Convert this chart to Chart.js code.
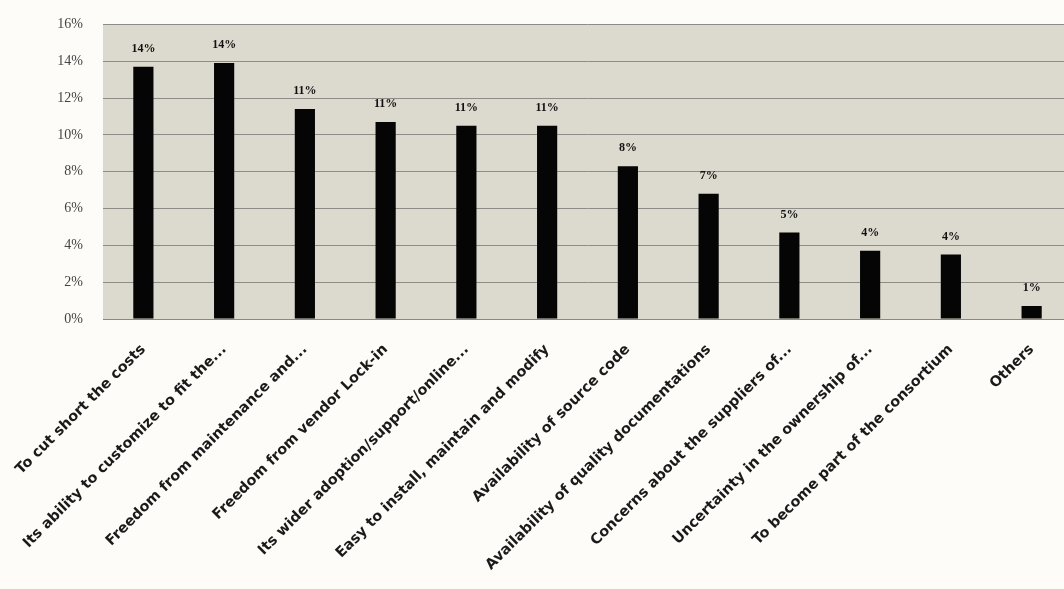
<!DOCTYPE html>
<html>
<head>
<meta charset="utf-8">
<script src="https://cdn.jsdelivr.net/npm/chart.js@4.4.0/dist/chart.umd.min.js"></script>
<style>
  html, body { margin: 0; padding: 0; background: #fdfcf8; overflow: hidden; }
  #wrap { width: 1064px; height: 589px; overflow: hidden; }
  #reasonsChart { display: block; margin-top: -4px; }
</style>
</head>
<body>
<div id="wrap"><canvas id="reasonsChart" width="1080" height="593"></canvas></div>
<script>
// Reasons for adopting open source (share of responses, %)
const categories = [
    'To cut short the costs',
    'Its ability to customize to fit the...',
    'Freedom from maintenance and...',
    'Freedom from vendor Lock-in',
    'Its wider adoption/support/online...',
    'Easy to install, maintain and modify',
    'Availability of source code',
    'Availability of quality documentations',
    'Concerns about the suppliers of...',
    'Uncertainty in the ownership of...',
    'To become part of the consortium',
    'Others'
];
const shares = [13.7, 13.9, 11.4, 10.7, 10.5, 10.5, 8.3, 6.8, 4.7, 3.7, 3.5, 0.7];
const yTicks = [0, 2, 4, 6, 8, 10, 12, 14, 16];

// Fill the plot area with the grey paper tone
const plotBackground = {
    id: 'plotBackground',
    beforeDraw(chart) {
        const { ctx, chartArea: a } = chart;
        ctx.save();
        ctx.fillStyle = '#dcd9ce';
        ctx.fillRect(a.left, a.top, a.right - a.left, a.bottom - a.top);
        ctx.restore();
    }
};

// Percentage labels above each bar
const barLabels = {
    id: 'barLabels',
    afterDatasetsDraw(chart) {
        const { ctx } = chart;
        const meta = chart.getDatasetMeta(0);
        ctx.save();
        ctx.font = 'bold 12px "Liberation Serif"';
        ctx.fillStyle = '#111';
        ctx.textAlign = 'center';
        ctx.textBaseline = 'bottom';
        meta.data.forEach((bar, i) => {
            ctx.fillText(Math.round(shares[i]) + '%', bar.x, bar.y - 12);
        });
        ctx.restore();
    }
};

const ctx = document.getElementById('reasonsChart').getContext('2d');
new Chart(ctx, {
    type: 'bar',
    data: {
        labels: categories,
        datasets: [{
            data: shares,
            backgroundColor: '#050505',
            borderWidth: 0,
            categoryPercentage: 1,
            barPercentage: 0.25
        }]
    },
    options: {
        responsive: false,
        animation: false,
        layout: { padding: { left: 0, right: 8, top: 20, bottom: 0 } },
        plugins: {
            legend: { display: false },
            tooltip: { enabled: false }
        },
        scales: {
            x: {
                grid: { display: false },
                border: { color: '#8a8884' },
                ticks: {
                    color: '#1a1a1a',
                    font: { family: 'DejaVu Sans', size: 14.5, weight: 'bold' },
                    minRotation: 45,
                    maxRotation: 45,
                    autoSkip: false,
                    padding: 14
                },
                afterFit(scale) { scale.height = 270; }
            },
            y: {
                min: 0,
                max: 16,
                afterBuildTicks(scale) { scale.ticks = yTicks.map(v => ({ value: v })); },
                grid: { color: '#8e8c86', lineWidth: 1, drawTicks: false },
                border: { display: false },
                ticks: {
                    color: '#444',
                    font: { family: 'Liberation Serif', size: 14 },
                    padding: 20,
                    callback: v => v + '%'
                },
                afterFit(scale) { scale.width = 103; }
            }
        }
    },
    plugins: [plotBackground, barLabels]
});
</script>
</body>
</html>
